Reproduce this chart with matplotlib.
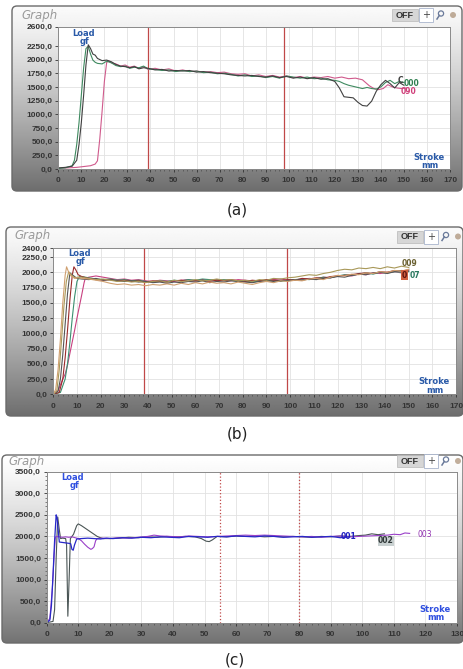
import matplotlib
matplotlib.use('Agg')
import matplotlib.pyplot as plt
import numpy as np
from matplotlib.patches import FancyBboxPatch, Rectangle, Circle
from matplotlib.ticker import FixedLocator, MultipleLocator

# ---------------- data ----------------
# Panel (a)
A_x_black = [0, 3, 6, 8, 9, 10, 11, 12, 13, 14,
             15, 16, 17, 19, 21, 23, 25, 27, 29, 31,
             33, 35, 37, 39, 42, 45, 48, 51, 54, 57,
             60, 63, 66, 69, 72, 75, 78, 81, 84, 87,
             90, 93, 96, 99, 102, 105, 108, 111, 114, 117,
             120, 122, 124, 126, 128, 130, 132, 134, 136, 138,
             140, 142, 144, 146, 148, 150]
A_y_black = [20, 30, 50, 160, 450, 850, 1350, 1900, 2270, 2200,
             2100, 2080, 2020, 1980, 1990, 1960, 1910, 1880, 1870, 1850,
             1870, 1830, 1850, 1840, 1810, 1820, 1790, 1800, 1790, 1800,
             1770, 1780, 1760, 1750, 1740, 1720, 1710, 1700, 1710, 1690,
             1680, 1700, 1670, 1690, 1660, 1680, 1650, 1670, 1640, 1650,
             1600, 1480, 1320, 1310, 1300, 1220, 1160, 1150, 1240, 1420,
             1540, 1620, 1560, 1480, 1580, 1530]
A_x_green = [0, 3, 6, 7, 8, 9, 10, 11, 12, 13,
             14, 15, 16, 17, 19, 21, 23, 25, 27, 29,
             31, 33, 35, 37, 39, 42, 45, 48, 51, 54,
             57, 60, 63, 66, 69, 72, 75, 78, 81, 84,
             87, 90, 93, 96, 99, 102, 105, 108, 111, 114,
             117, 120, 122, 124, 126, 128, 130, 132, 134, 136,
             138, 140, 142, 144, 146, 148, 150]
A_y_green = [10, 20, 60, 160, 450, 850, 1350, 1850, 2200, 2240,
             2100, 1990, 1950, 1930, 1920, 1970, 1940, 1890, 1870, 1880,
             1840, 1860, 1850, 1880, 1830, 1820, 1800, 1810, 1780, 1800,
             1780, 1790, 1760, 1770, 1740, 1750, 1730, 1700, 1720, 1690,
             1700, 1670, 1690, 1660, 1700, 1680, 1660, 1680, 1650, 1660,
             1630, 1620, 1600, 1560, 1530, 1510, 1490, 1470, 1490, 1470,
             1460, 1500, 1580, 1620, 1560, 1600, 1580]
A_x_pink = [0, 4, 8, 12, 14, 16, 17, 18, 19, 20,
            21, 22, 23, 25, 27, 29, 31, 33, 35, 37,
            39, 42, 45, 48, 51, 54, 57, 60, 63, 66,
            69, 72, 75, 78, 81, 84, 87, 90, 93, 96,
            99, 102, 105, 108, 111, 114, 117, 120, 123, 126,
            129, 132, 135, 137, 139, 141, 143, 145, 147, 149,
            151]
A_y_pink = [15, 20, 30, 50, 60, 90, 150, 550, 1050, 1600,
            1950, 1970, 1940, 1920, 1880, 1900, 1860, 1880, 1840, 1870,
            1820, 1840, 1810, 1830, 1790, 1810, 1780, 1790, 1770, 1780,
            1760, 1770, 1740, 1730, 1740, 1700, 1720, 1690, 1710, 1680,
            1700, 1670, 1690, 1660, 1680, 1670, 1690, 1660, 1680, 1650,
            1660, 1630, 1520, 1470, 1450, 1470, 1540, 1500, 1480, 1470,
            1480]
A_yticks = [0, 250, 500, 750, 1000, 1250, 1500, 1750, 2000, 2250, 2600]
A_xticks = [0, 10, 20, 30, 40, 50, 60, 70, 80, 90, 100, 110, 120, 130, 140, 150, 160, 170]
A_redlines = [39, 98]

# Panel (b)
B_x_flat = [12, 15, 18, 21, 24, 27, 30, 33, 36, 39,
            42, 45, 48, 51, 54, 57, 60, 63, 66, 69,
            72, 75, 78, 81, 84, 87, 90, 93, 96, 99,
            102, 105, 108, 111, 114, 117, 120, 123, 126, 129,
            132, 135, 138, 141, 144, 147, 150]
B_x_tan_rise = [0, 1, 2, 3, 4, 5, 5.6, 6.5, 7.5, 9, 10.5]
B_y_tan_rise = [0, 80, 400, 900, 1500, 1950, 2090, 2000, 1940, 1900, 1910]
B_y_tan_flat = [1900, 1890, 1870, 1850, 1820, 1800, 1810, 1790, 1800, 1780,
                1800, 1790, 1810, 1790, 1820, 1800, 1830, 1810, 1840, 1820,
                1830, 1810, 1840, 1820, 1800, 1830, 1850, 1830, 1860, 1850,
                1870, 1860, 1890, 1900, 1880, 1920, 1950, 1940, 1970, 1960,
                1990, 1980, 2010, 2000, 2030, 2020, 2050]
B_x_olive_rise = [0, 1.5, 2.5, 3.5, 4.5, 5.5, 6.5, 7.5, 9, 10.5]
B_y_olive_rise = [0, 60, 400, 900, 1450, 1850, 2010, 1960, 1910, 1920]
B_y_olive_flat = [1920, 1900, 1880, 1890, 1870, 1850, 1860, 1840, 1850, 1830,
                  1850, 1860, 1840, 1870, 1850, 1860, 1880, 1860, 1870, 1890,
                  1870, 1880, 1860, 1870, 1850, 1880, 1870, 1900, 1890, 1910,
                  1920, 1940, 1960, 1950, 1980, 2000, 2030, 2050, 2040, 2070,
                  2060, 2080, 2060, 2090, 2070, 2100, 2080]
B_x_gray_rise = [0, 2, 3, 4, 5, 6, 7, 8, 10]
B_y_gray_rise = [0, 50, 250, 650, 1150, 1650, 1990, 1960, 1900]
B_y_gray_flat = [1890, 1880, 1900, 1870, 1880, 1860, 1850, 1860, 1840, 1850,
                 1830, 1840, 1820, 1840, 1830, 1850, 1840, 1860, 1830, 1850,
                 1840, 1860, 1850, 1840, 1830, 1850, 1860, 1850, 1870, 1860,
                 1880, 1870, 1890, 1880, 1900, 1910, 1930, 1920, 1950, 1970,
                 1960, 1990, 2000, 1980, 2010, 2030, 2020]
B_x_red_rise = [0, 2.5, 4, 5, 6, 7, 8, 8.7, 9.5, 10.5]
B_y_red_rise = [0, 30, 250, 600, 1050, 1550, 1950, 2090, 2040, 1960]
B_y_red_flat = [1930, 1900, 1880, 1870, 1880, 1860, 1870, 1850, 1860, 1840,
                1860, 1850, 1840, 1860, 1870, 1850, 1860, 1870, 1850, 1870,
                1860, 1880, 1860, 1850, 1870, 1860, 1880, 1870, 1860, 1880,
                1870, 1900, 1890, 1910, 1900, 1930, 1940, 1950, 1960, 1980,
                1990, 1980, 2010, 2000, 2030, 2020, 2040]
B_x_teal_rise = [0, 3, 5, 6, 7, 8, 9, 10, 11]
B_y_teal_rise = [0, 30, 250, 500, 850, 1250, 1600, 1850, 1930]
B_y_teal_flat = [1930, 1910, 1890, 1880, 1890, 1870, 1880, 1860, 1870, 1850,
                 1840, 1860, 1850, 1870, 1860, 1880, 1870, 1890, 1880, 1870,
                 1880, 1870, 1850, 1860, 1840, 1860, 1870, 1860, 1850, 1870,
                 1880, 1890, 1880, 1900, 1920, 1910, 1940, 1960, 1950, 1970,
                 1990, 1970, 2000, 1990, 2010, 2000, 2010]
B_x_pink = [0, 2, 4, 5, 6, 7, 8, 9, 10, 11, 12, 13, 13.5,
            15, 18, 21, 24, 27, 30, 33, 36, 39, 42,
            45, 48, 51, 54, 57, 60, 63, 66, 69, 72,
            75, 78, 81, 84, 87, 90, 93, 96, 99, 102,
            105, 108, 111, 114, 117, 120, 123, 126, 129, 132,
            135, 138, 141, 144, 147, 150]
B_y_pink = [0, 60, 250, 330, 480, 670, 860, 1050, 1250, 1440, 1630, 1830, 1900,
            1920, 1940, 1920, 1900, 1880, 1890, 1870, 1880, 1860, 1850,
            1870, 1860, 1850, 1870, 1880, 1860, 1880, 1870, 1880, 1870,
            1860, 1880, 1870, 1860, 1850, 1870, 1880, 1890, 1870, 1880,
            1880, 1900, 1890, 1920, 1910, 1940, 1950, 1940, 1970, 1960,
            1990, 1980, 2000, 2010, 1990, 2020]
B_yticks = [0, 250, 500, 750, 1000, 1250, 1500, 1750, 2000, 2250, 2400]
B_xticks = A_xticks
B_redlines = [38.5, 98.5]

# Panel (c)
C_x_blue = [0, 1, 1.5, 2, 2.5, 3, 3.3, 3.7, 4, 5,
            6, 7, 7.6, 8, 8.4, 8.8, 9.5, 11, 13, 15,
            17, 19, 21, 24, 27, 30, 33, 36, 39, 42,
            45, 48, 51, 54, 57, 60, 63, 66, 69, 72,
            75, 78, 81, 84, 87, 90, 93, 96]
C_y_blue = [0, 60, 400, 1100, 1900, 2500, 2420, 2100, 1870, 1860,
            1850, 1840, 1830, 1700, 1680, 1800, 1940, 1950, 1960, 1950,
            1940, 1960, 1950, 1970, 1960, 1980, 1970, 1990, 1980, 1970,
            2000, 1990, 1980, 2000, 1990, 2010, 2000, 1990, 2010, 2000,
            1980, 1990, 2000, 1980, 1990, 2000, 1970, 1990]
C_x_gray = [0, 2, 2.5, 3, 3.5, 4, 4.4, 5, 6, 6.3,
            6.7, 7.1, 7.5, 8.5, 9.5, 10, 11, 12, 13, 14,
            15, 16, 17, 18, 20, 23, 26, 29, 32, 35,
            38, 41, 44, 47, 49, 50.5, 51.5, 52.5, 54, 57,
            60, 63, 66, 69, 72, 75, 78, 81, 84, 87,
            90, 93, 96, 99, 101, 103, 105, 107]
C_y_gray = [0, 30, 300, 1500, 2450, 2150, 1950, 1960, 1950, 1800,
            150, 1000, 1950, 2050, 2250, 2290, 2250, 2200, 2150, 2100,
            2050, 2000, 1970, 1950, 1950, 1960, 1980, 1970, 1990, 1980,
            2000, 1990, 2000, 1990, 1950, 1890, 1880, 1920, 2000, 1990,
            2010, 2000, 2010, 1990, 2000, 1990, 2000, 1990, 1980, 2000,
            1990, 2010, 2000, 2020, 2030, 2060, 2040, 2060]
C_x_purple = [0, 1, 1.8, 2.3, 2.7, 3, 4, 5, 6, 7,
              8, 9, 10, 11, 12, 13, 14, 14.5, 15, 15.5,
              16, 18, 20, 23, 26, 29, 32, 34, 36, 39,
              42, 45, 48, 51, 54, 57, 60, 63, 66, 69,
              72, 75, 78, 81, 84, 87, 90, 93, 96, 99,
              102, 105, 108, 110, 112, 113.5, 115]
C_y_purple = [0, 100, 800, 1500, 1950, 2000, 1990, 1980, 1990, 1980,
              1990, 1970, 1950, 1900, 1820, 1750, 1700, 1720, 1760, 1900,
              1950, 1960, 1950, 1970, 1960, 1980, 2000, 2030, 2010, 2000,
              1990, 2010, 2000, 1990, 2000, 2010, 2020, 2030, 2020, 2030,
              2020, 2010, 2000, 1990, 2000, 1980, 2000, 2010, 1990, 2000,
              2010, 2020, 2030, 2050, 2040, 2080, 2070]
C_yticks = [0, 500, 1000, 1500, 2000, 2500, 3000, 3500]
C_xticks = [0, 10, 20, 30, 40, 50, 60, 70, 80, 90, 100, 110, 120, 130]
C_redlines = [55, 80]

# ---------------- figure ----------------
W, H = 463, 669
fig = plt.figure(figsize=(W / 100, H / 100), dpi=100)
fig.patch.set_facecolor('white')
bg = fig.add_axes([0, 0, 1, 1])
bg.axis('off')

TICKFONT = dict(family='Liberation Sans', weight='bold', size=6)


def rect(x0, y0, x1, y1):
    return [x0 / W, 1 - y1 / H, (x1 - x0) / W, (y1 - y0) / H]


def frame(x0, y0, x1, y1, top_light=0.98):
    patch = FancyBboxPatch((x0, y0), x1 - x0, y1 - y0,
                           boxstyle="round,pad=0,rounding_size=5",
                           fc='none', ec='#6a6a6a', lw=1.0, zorder=3)
    bg.add_patch(patch)
    t = np.linspace(0, 1, 256)[:, None]
    grad = top_light - 0.55 * t ** 1.25
    grad = np.repeat(grad, 2, axis=1)
    im = bg.imshow(grad, extent=(x0, x1, y1, y0), cmap='gray', vmin=0, vmax=1,
                   aspect='auto', zorder=1, interpolation='bilinear')
    im.set_clip_path(patch)


def buttons(xc, yc):
    bg.add_patch(Rectangle((xc - 13, yc - 6), 26, 12, fc='#d6d6d6', ec='#b8b8b8', lw=0.5, zorder=5))
    bg.text(xc, yc, 'OFF', fontsize=6.5, fontweight='bold', color='#333333',
            ha='center', va='center', zorder=6, family='Liberation Sans')
    bg.add_patch(Rectangle((xc + 14, yc - 7), 14, 14, fc='white', ec='#a8b4cc', lw=0.6, zorder=5))
    bg.text(xc + 21, yc, '+', fontsize=7, color='#444444', ha='center', va='center', zorder=6)
    bg.add_patch(Circle((xc + 36, yc - 1.5), 2.6, fc='none', ec='#6a7a9a', lw=0.9, zorder=6))
    bg.plot([xc + 34.3, xc + 32], [yc + 0.5, yc + 4], color='#6a7a9a', lw=1.1, zorder=6)
    bg.add_patch(Circle((xc + 48, yc), 3, fc='#9a7a5a', ec='none', alpha=0.6, zorder=6))


def panel(px, xlim, ylim, yticks, xticks, redlines, red_ls, ymajor_minor=None):
    ax = fig.add_axes(rect(*px))
    ax.set_facecolor('white')
    ax.set_xlim(*xlim)
    ax.set_ylim(*ylim)
    ax.yaxis.set_major_locator(FixedLocator(yticks))
    ax.set_yticklabels([f'{v},0' for v in yticks], fontdict=TICKFONT, color='#222222')
    ax.xaxis.set_major_locator(FixedLocator(xticks))
    ax.set_xticklabels([str(v) for v in xticks], fontdict=TICKFONT, color='#222222')
    ax.xaxis.set_minor_locator(MultipleLocator(2))
    if ymajor_minor:
        ax.yaxis.set_minor_locator(MultipleLocator(ymajor_minor))
    ax.tick_params(axis='x', which='major', direction='out', length=2.5, width=0.6, pad=3.5, colors='#333333')
    ax.tick_params(axis='x', which='minor', direction='out', length=1.3, width=0.6, colors='#555555')
    ax.tick_params(axis='y', which='major', direction='out', length=2.5, width=0.6, pad=1.5, colors='#333333')
    ax.tick_params(axis='y', which='minor', direction='out', length=1.2, width=0.5, colors='#555555')
    ax.grid(True, which='major', color='#e2e2e2', lw=0.6)
    ax.set_axisbelow(True)
    for s in ax.spines.values():
        s.set_color('#8a8a8a')
        s.set_linewidth(0.7)
    for xv in redlines:
        ax.axvline(xv, color='#c04848', lw=0.9, ls=red_ls, zorder=1.5)
    return ax


# ---- panel (a)
frame(12, 6, 462, 191)
axa = panel((58.3, 26.7, 450, 169), (0, 170), (0, 2600), A_yticks, A_xticks, A_redlines, '-')
axa.plot(A_x_pink, A_y_pink, color='#d05a8c', lw=0.8)
axa.plot(A_x_green, A_y_green, color='#3f8a60', lw=0.8)
axa.plot(A_x_black, A_y_black, color='#404040', lw=0.8)
axa.text(147.3, 1610, 'C', color='#404040', fontsize=5.5, fontweight='bold', va='center')
axa.text(150, 1560, '000', color='#2f8050', fontsize=5.5, fontweight='bold', va='center')
axa.text(148.5, 1420, '090', color='#d0407a', fontsize=5.5, fontweight='bold', va='center')
bg.text(21, 16, 'Graph', fontsize=8.5, style='italic', color='#9a9a9a', va='center')
buttons(405, 15)
bg.text(237, 210, '(a)', fontsize=11, color='#222222', ha='center', va='center')

# ---- panel (b)
frame(6, 227, 463, 416)
axb = panel((53.3, 247.9, 456, 394.3), (0, 170), (0, 2400), B_yticks, B_xticks, B_redlines, '-')
axb.plot(B_x_pink, B_y_pink, color='#c84080', lw=0.8)
axb.plot(B_x_teal_rise + B_x_flat, B_y_teal_rise + B_y_teal_flat, color='#3a9070', lw=0.8)
axb.plot(B_x_red_rise + B_x_flat, B_y_red_rise + B_y_red_flat, color='#9a2a2a', lw=0.8)
axb.plot(B_x_gray_rise + B_x_flat, B_y_gray_rise + B_y_gray_flat, color='#555555', lw=0.8)
axb.plot(B_x_olive_rise + B_x_flat, B_y_olive_rise + B_y_olive_flat, color='#a89858', lw=0.8)
axb.plot(B_x_tan_rise + B_x_flat, B_y_tan_rise + B_y_tan_flat, color='#d0a070', lw=0.8)
axb.text(147, 2150, '009', color='#6a6030', fontsize=5.5, fontweight='bold', va='center')
axb.text(147.2, 1950, '0', color='#5a1010', fontsize=5.5, fontweight='bold', va='center',
         bbox=dict(fc='#d06040', ec='none', pad=0.4))
axb.text(150.3, 1950, '07', color='#2a7a60', fontsize=5.5, fontweight='bold', va='center')
bg.text(14, 236, 'Graph', fontsize=8.5, style='italic', color='#9a9a9a', va='center')
buttons(410, 236.5)
bg.text(237, 434, '(b)', fontsize=11, color='#222222', ha='center', va='center')

# ---- panel (c)
frame(2, 455, 463, 643, top_light=1.0)
axc = panel((46.7, 471.7, 457, 622.7), (0, 130), (0, 3500), C_yticks, C_xticks, C_redlines, ':', ymajor_minor=100)
axc.plot(C_x_gray, C_y_gray, color='#4a5555', lw=0.8)
axc.plot(C_x_purple, C_y_purple, color='#9a40c8', lw=0.8)
axc.plot(C_x_blue, C_y_blue, color='#2828c8', lw=0.9)
axc.text(93, 1990, '001', color='#2020c0', fontsize=5.5, fontweight='bold', va='center')
axc.text(105, 1900, '002', color='#303838', fontsize=5.5, fontweight='bold', va='center',
         bbox=dict(fc='#c8d0d0', ec='none', pad=0.3))
axc.text(117.5, 2040, '003', color='#9030b0', fontsize=5.5, va='center')
bg.text(8, 461, 'Graph', fontsize=8.5, style='italic', color='#9a9a9a', va='center')
buttons(410, 461)
bg.text(235, 660, '(c)', fontsize=11, color='#222222', ha='center', va='center')

bg.set_xlim(0, W)
bg.set_ylim(H, 0)

# ---- overlay for in-plot axis captions
ov = fig.add_axes([0, 0, 1, 1])
ov.axis('off')
ov.patch.set_alpha(0)
ov.set_xlim(0, W)
ov.set_ylim(H, 0)
for (lx, ly, sx, sy, col) in [(84, 33, 429, 157, '#2a5aa8'),
                              (80, 253, 434, 382, '#2a5aa8'),
                              (73, 478, 435, 609, '#3050e0')]:
    ov.text(lx, ly, 'Load', fontsize=6, fontweight='bold', color=col, ha='center', va='center')
    ov.text(lx + 1, ly + 8, 'gf', fontsize=6, fontweight='bold', color=col, ha='center', va='center')
    ov.text(sx, sy, 'Stroke', fontsize=6, fontweight='bold', color=col, ha='center', va='center')
    ov.text(sx + 1, sy + 8.5, 'mm', fontsize=6, fontweight='bold', color=col, ha='center', va='center')

fig.savefig('out.png', dpi=100)
